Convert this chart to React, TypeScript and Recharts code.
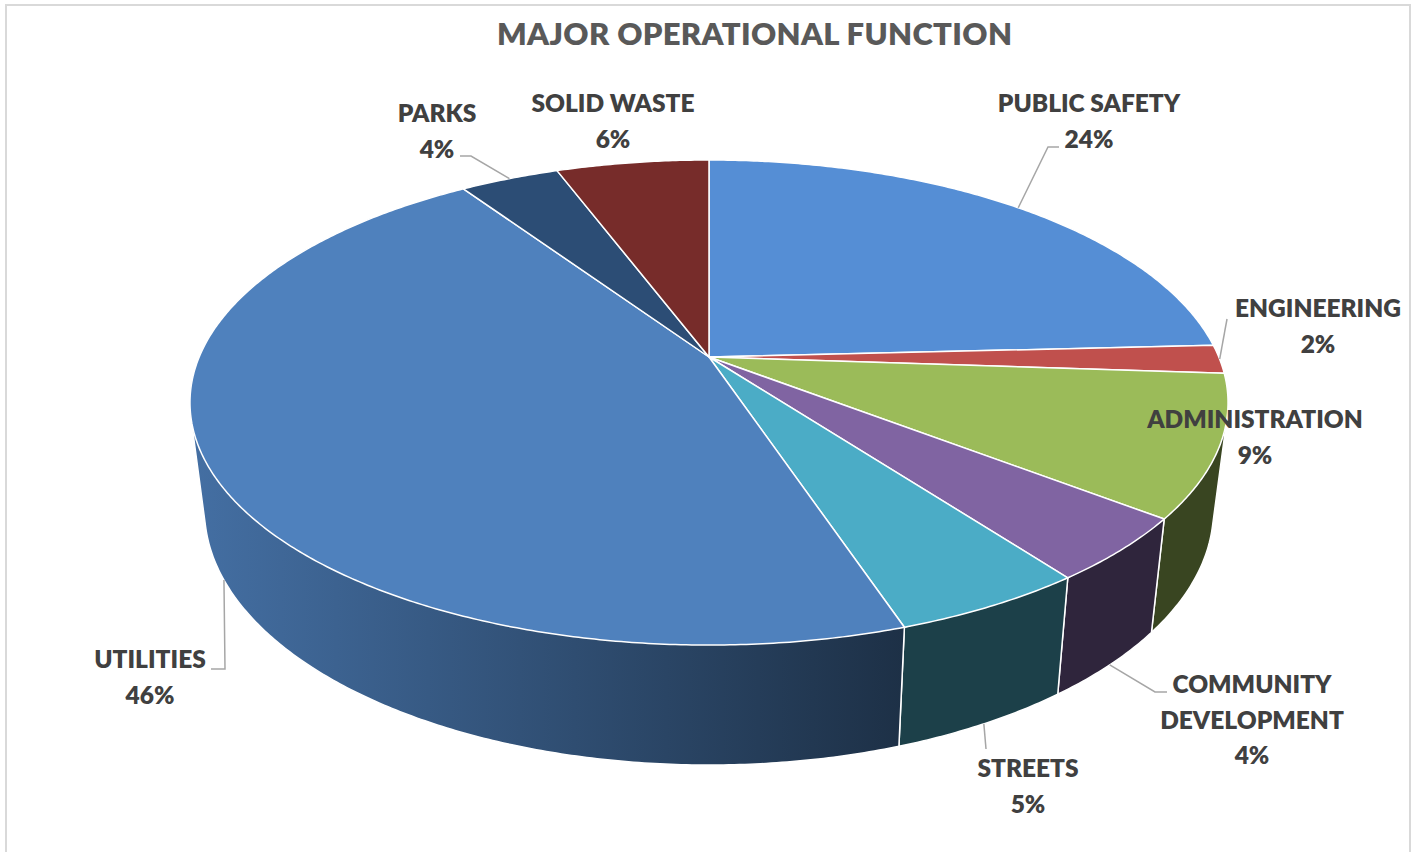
import React from 'react';
import { PieChart, Pie, Cell } from 'recharts';

// ---------- data ----------
const categories = [
  'PUBLIC SAFETY',
  'ENGINEERING',
  'ADMINISTRATION',
  'COMMUNITY DEVELOPMENT',
  'STREETS',
  'UTILITIES',
  'PARKS',
  'SOLID WASTE',
];
const shares = [24.2, 1.9, 9.4, 4.3, 5.1, 45.7, 3.7, 5.7];
const labelRows = [
  ['PUBLIC SAFETY'],
  ['ENGINEERING'],
  ['ADMINISTRATION'],
  ['COMMUNITY', 'DEVELOPMENT'],
  ['STREETS'],
  ['UTILITIES'],
  ['PARKS'],
  ['SOLID WASTE'],
];
const colors = ['#558ED5', '#C0504D', '#9BBB59', '#8064A2', '#4BACC6', '#4F81BD', '#2C4D75', '#772C2A'];
const title = 'MAJOR OPERATIONAL FUNCTION';

const data = categories.map((name, i) => ({ name, value: shares[i] }));

// ---------- 3D projection (layout) ----------
const W = 1419;
const H = 852;
const CX = 709;
const CY = 357;
const RX = 509.8;
const RY = 234;
const P = 0.1877; // perspective
const K = 0.972; // bottom plane horizontal shrink
const DEPTH = 105; // bottom plane centre offset
const RY_BOTTOM = RY * 1.052;
const THETA_L = (Math.asin(P) * 180) / Math.PI;
const THETA_R = 180 - THETA_L;

type Pt = { x: number; y: number };

function proj(thetaDeg: number, bottom = false): Pt {
  const t = (thetaDeg * Math.PI) / 180;
  const u = Math.cos(t);
  const v = Math.sin(t);
  const s = 1 / (1 - P * v);
  if (bottom) {
    return { x: CX + K * RX * u * s, y: CY + DEPTH + RY_BOTTOM * v * s };
  }
  return { x: CX + RX * u * s, y: CY + RY * v * s };
}

function arcPts(a: number, b: number, bottom = false) {
  const pts: Pt[] = [];
  const n = Math.max(2, Math.ceil(Math.abs(b - a) / 0.5));
  for (let i = 0; i <= n; i++) pts.push(proj(a + ((b - a) * i) / n, bottom));
  return pts;
}

function hull(points: Pt[]) {
  const pts = [...points].sort((a, b) => (a.x === b.x ? a.y - b.y : a.x - b.x));
  const cross = (o: Pt, a: Pt, b: Pt) => (a.x - o.x) * (b.y - o.y) - (a.y - o.y) * (b.x - o.x);
  const lower: Pt[] = [];
  for (const p of pts) {
    while (lower.length >= 2 && cross(lower[lower.length - 2], lower[lower.length - 1], p) <= 0) lower.pop();
    lower.push(p);
  }
  const upper: Pt[] = [];
  for (let i = pts.length - 1; i >= 0; i--) {
    const p = pts[i];
    while (upper.length >= 2 && cross(upper[upper.length - 2], upper[upper.length - 1], p) <= 0) upper.pop();
    upper.push(p);
  }
  upper.pop();
  lower.pop();
  return lower.concat(upper);
}

const f = (n: number) => n.toFixed(2);

function shade(hex: string, k: number) {
  const n = parseInt(hex.slice(1), 16);
  const r = Math.round(((n >> 16) & 255) * k);
  const g = Math.round(((n >> 8) & 255) * k);
  const b = Math.round((n & 255) * k);
  return `rgb(${r},${g},${b})`;
}

// label layout (text centre x, first baseline y, leader line points after the rim anchor)
const labelLayout: { x: number; y: number; line: number[][] | null }[] = [
  { x: 1089, y: 112, line: [[1048, 147], [1059, 147]] },
  { x: 1318, y: 317, line: [[1227, 319]] },
  { x: 1255, y: 428, line: null },
  { x: 1252, y: 693, line: [[1155, 692], [1167, 692]] },
  { x: 1028, y: 777, line: [[986, 749]] },
  { x: 150, y: 668, line: [[225, 669], [211, 669]] },
  { x: 437, y: 122, line: [[471, 156], [460, 156]] },
  { x: 613, y: 112, line: null },
];

const FONT = 'Lato, "Open Sans", sans-serif';
const TEXT = '#404040';

const toTheta = (a: number) => -a;

function sectorRange(props: any) {
  const t0 = toTheta(props.startAngle);
  const t1 = toTheta(props.endAngle);
  return t0 < t1 ? [t0, t1] : [t1, t0];
}

const renderWall = (props: any) => {
  const i = props.index;
  const [t0, t1] = sectorRange(props);
  // only slices that reach the visible front part get a side wall
  if (t1 <= THETA_L || t0 >= THETA_R) return <g key={`w${i}`} />;
  const lo = Math.max(t0, -10);
  const hi = Math.min(t1, 190);
  const pts = hull([...arcPts(lo, hi), ...arcPts(lo, hi, true)]);
  const d = 'M' + pts.map((p) => `${f(p.x)},${f(p.y)}`).join('L') + 'Z';
  return (
    <path key={`w${i}`} d={d} fill={`url(#wall${i})`} stroke="#ffffff" strokeWidth={1.5} strokeLinejoin="round" />
  );
};

const renderTop = (props: any) => {
  const i = props.index;
  const [t0, t1] = sectorRange(props);
  const pts = arcPts(t0, t1);
  const d = `M${CX},${CY}L` + pts.map((p) => `${f(p.x)},${f(p.y)}`).join('L') + 'Z';
  return <path key={`t${i}`} d={d} fill={colors[i]} stroke="#ffffff" strokeWidth={1.5} strokeLinejoin="round" />;
};

const renderLabel = (props: any) => {
  const i = props.index;
  const lay = labelLayout[i];
  const [t0, t1] = sectorRange(props);
  const mid = (t0 + t1) / 2;
  const front = mid > THETA_L && mid < THETA_R;
  const rim = proj(mid, front);
  const rows = [...labelRows[i], `${Math.round(props.percent * 100)}%`];
  return (
    <g key={`l${i}`}>
      {lay.line && (
        <polyline
          points={[[rim.x, rim.y], ...lay.line].map((p) => `${f(p[0])},${f(p[1])}`).join(' ')}
          fill="none"
          stroke="#a6a6a6"
          strokeWidth={1.5}
        />
      )}
      {rows.map((r, k) => (
        <text
          key={k}
          x={lay.x}
          y={lay.y + k * 35.5}
          textAnchor="middle"
          fontFamily={FONT}
          fontWeight={800}
          fontSize={24.5}
          fill={TEXT}
        >
          {r}
        </text>
      ))}
    </g>
  );
};

const pieCommon = {
  data,
  dataKey: 'value',
  nameKey: 'name',
  cx: CX,
  cy: CY,
  outerRadius: RY,
  startAngle: 90,
  endAngle: -270,
  isAnimationActive: false,
  labelLine: false,
  stroke: 'none',
};

export default function App() {
  return (
    <div style={{ position: 'absolute', left: 0, top: 0, width: W, height: H, background: '#ffffff' }}>
      <PieChart width={W} height={H} style={{ position: 'absolute', left: 0, top: 0 }}>
        <defs>
          {colors.map((c, i) => (
            <linearGradient key={i} id={`wall${i}`} gradientUnits="userSpaceOnUse" x1={190} y1={0} x2={905} y2={0}>
              <stop offset="0" stopColor={shade(c, 0.86)} />
              <stop offset="1" stopColor={shade(c, 0.37)} />
            </linearGradient>
          ))}
        </defs>
        <Pie {...(pieCommon as any)} label={renderWall}>
          {data.map((d, i) => (
            <Cell key={i} fill="none" stroke="none" />
          ))}
        </Pie>
        <Pie {...(pieCommon as any)} label={renderTop}>
          {data.map((d, i) => (
            <Cell key={i} fill="none" stroke="none" />
          ))}
        </Pie>
        <Pie {...(pieCommon as any)} label={renderLabel}>
          {data.map((d, i) => (
            <Cell key={i} fill="none" stroke="none" />
          ))}
        </Pie>
      </PieChart>
      <svg width={W} height={H} style={{ position: 'absolute', left: 0, top: 0, pointerEvents: 'none' }}>
        <rect x={6} y={5} width={1404} height={852} fill="none" stroke="#d9d9d9" strokeWidth={2} />
        <text
          x={754.5}
          y={45}
          textAnchor="middle"
          fontFamily={FONT}
          fontWeight={800}
          fontSize={31}
          textLength={515}
          fill="#595959"
        >
          {title}
        </text>
      </svg>
    </div>
  );
}
